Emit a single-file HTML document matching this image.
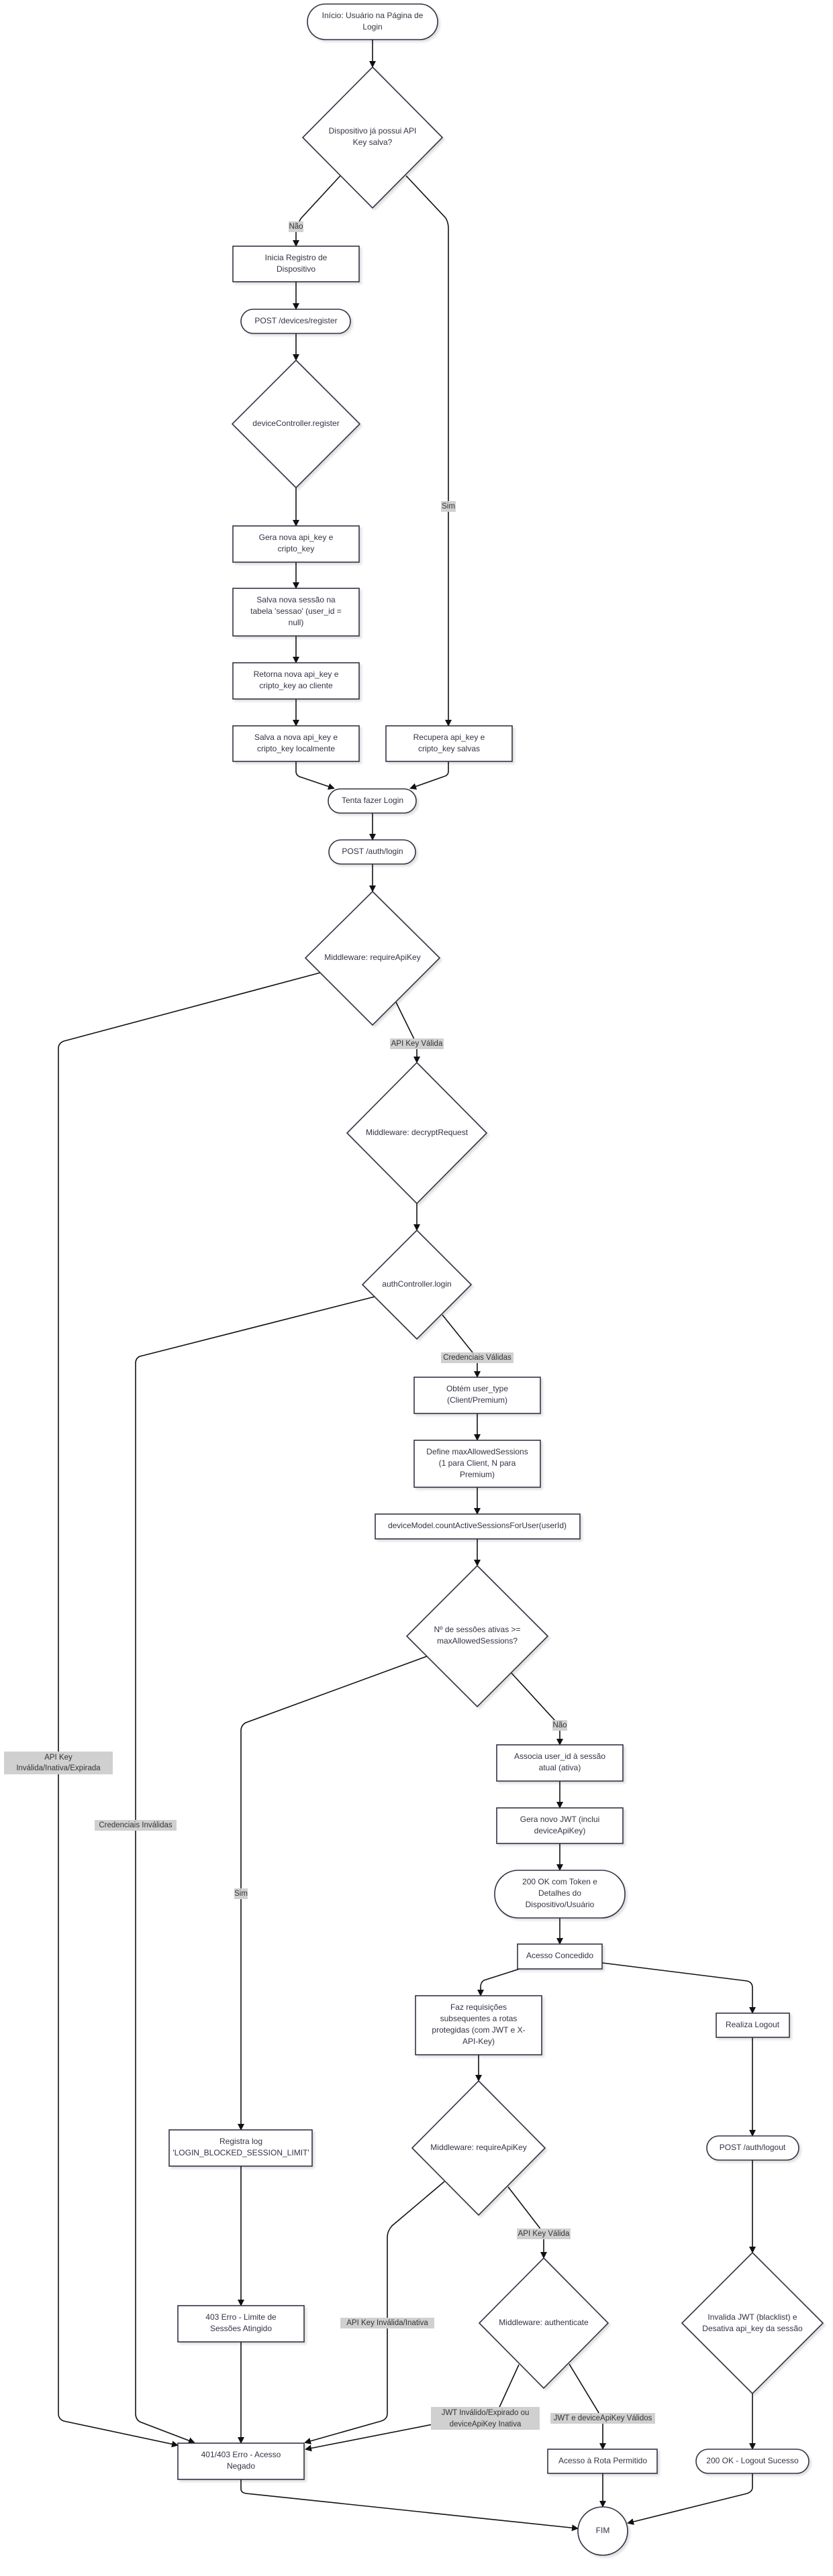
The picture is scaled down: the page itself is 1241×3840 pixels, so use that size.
<!DOCTYPE html>
<html><head><meta charset="utf-8"><title>Fluxo de Login</title>
<style>
html,body{margin:0;padding:0;background:#fff;}
svg{display:block;}
text{font-family:"Liberation Sans",sans-serif;font-size:12px;fill:#333344;text-anchor:middle;dominant-baseline:middle;}
.n{fill:#fff;stroke:#333344;stroke-width:1.6;filter:url(#sh);}
.e{fill:none;stroke:#111;stroke-width:1.6;}
.lb{fill:#d0d0d0;}
.lt{font-size:11.5px;fill:#333;}
</style></head>
<body>
<svg width="1241" height="3840" viewBox="0 0 1241 3840" xmlns="http://www.w3.org/2000/svg">
<defs>
<marker id="ar" markerWidth="10" markerHeight="10" refX="8" refY="5" orient="auto" markerUnits="userSpaceOnUse"><path d="M0,0 L10,5 L0,10 z" fill="#111"/></marker>
<filter id="sh" x="-10%" y="-10%" width="130%" height="130%"><feDropShadow dx="3" dy="3" stdDeviation="1.5" flood-color="#000" flood-opacity="0.12"/></filter>
</defs>

<!-- EDGES -->
<g>
<path class="e" marker-end="url(#ar)" d="M555 59 L555 99"/>
<path class="e" marker-end="url(#ar)" d="M507 262 L448 326 L441 340 L441 366"/>
<path class="e" marker-end="url(#ar)" d="M605 262 L664 325 Q668 332 668 340 L668 1081"/>
<path class="e" marker-end="url(#ar)" d="M441 420 L441 460"/>
<path class="e" marker-end="url(#ar)" d="M441 497 L441 536"/>
<path class="e" marker-end="url(#ar)" d="M441 726 L441 783"/>
<path class="e" marker-end="url(#ar)" d="M441 838 L441 876"/>
<path class="e" marker-end="url(#ar)" d="M441 948 L441 987"/>
<path class="e" marker-end="url(#ar)" d="M441 1042 L441 1081"/>
<path class="e" marker-end="url(#ar)" d="M441 1135 L441 1150 Q441 1157 450 1159 L497 1175"/>
<path class="e" marker-end="url(#ar)" d="M668 1135 L668 1150 Q668 1156 660 1158 L612 1175"/>
<path class="e" marker-end="url(#ar)" d="M555 1212 L555 1251"/>
<path class="e" marker-end="url(#ar)" d="M555 1288 L555 1328"/>
<path class="e" marker-end="url(#ar)" d="M477 1450 L95 1552 Q87 1555 87 1563 L87 3598 Q87 3606 95 3609 L264 3645"/>
<path class="e" marker-end="url(#ar)" d="M590 1494 L617 1549 L621 1560 L621 1583"/>
<path class="e" marker-end="url(#ar)" d="M621 1794 L621 1833"/>
<path class="e" marker-end="url(#ar)" d="M558 1933 L208 2022 Q202 2025 202 2032 L202 3598 Q202 3606 208 3610 L289 3641"/>
<path class="e" marker-end="url(#ar)" d="M659 1960 L704 2016 L711 2030 L711 2052"/>
<path class="e" marker-end="url(#ar)" d="M711 2107 L711 2146"/>
<path class="e" marker-end="url(#ar)" d="M711 2217 L711 2256"/>
<path class="e" marker-end="url(#ar)" d="M711 2294 L711 2333"/>
<path class="e" marker-end="url(#ar)" d="M636 2469 L366 2568 Q359 2572 359 2580 L359 3174"/>
<path class="e" marker-end="url(#ar)" d="M762 2494 L826 2564 L834 2580 L834 2600"/>
<path class="e" marker-end="url(#ar)" d="M834 2655 L834 2694"/>
<path class="e" marker-end="url(#ar)" d="M834 2748 L834 2787"/>
<path class="e" marker-end="url(#ar)" d="M834 2859 L834 2897"/>
<path class="e" marker-end="url(#ar)" d="M774 2935 L721 2952 Q716 2955 716 2962 L716 2974"/>
<path class="e" marker-end="url(#ar)" d="M897 2926 L1113 2953 Q1121 2955 1121 2963 L1121 3000"/>
<path class="e" marker-end="url(#ar)" d="M713 3063 L713 3101"/>
<path class="e" marker-end="url(#ar)" d="M1121 3037 L1121 3183"/>
<path class="e" marker-end="url(#ar)" d="M1121 3220 L1121 3357"/>
<path class="e" marker-end="url(#ar)" d="M1121 3568 L1121 3650"/>
<path class="e" marker-end="url(#ar)" d="M662 3252 L584 3318 Q577 3326 577 3335 L577 3598 Q577 3606 568 3609 L455 3641"/>
<path class="e" marker-end="url(#ar)" d="M757 3260 L804 3321 L810 3335 L810 3365"/>
<path class="e" marker-end="url(#ar)" d="M773 3525 L741 3595 L456 3651"/>
<path class="e" marker-end="url(#ar)" d="M848 3524 L891 3595 L898 3610 L898 3650"/>
<path class="e" marker-end="url(#ar)" d="M898 3687 L898 3736"/>
<path class="e" marker-end="url(#ar)" d="M359 3229 L359 3436"/>
<path class="e" marker-end="url(#ar)" d="M359 3491 L359 3641"/>
<path class="e" marker-end="url(#ar)" d="M359 3696 L359 3710 Q359 3716 367 3717 L860 3769"/>
<path class="e" marker-end="url(#ar)" d="M1121 3687 L1121 3708 Q1121 3714 1113 3717 L936 3761"/>
</g>

<!-- EDGE LABELS -->
<g>
<g><rect class="lb" x="430" y="330" width="22" height="16"/><text class="lt" x="441" y="338">Não</text></g>
<g><rect class="lb" x="657" y="747" width="22" height="16"/><text class="lt" x="668" y="755">Sim</text></g>
<g><rect class="lb" x="581" y="1548" width="80" height="16"/><text class="lt" x="621" y="1556">API Key Válida</text></g>
<g><rect class="lb" x="6" y="2611" width="162" height="34"/><text class="lt" x="87" y="2620">API Key</text><text class="lt" x="87" y="2636">Inválida/Inativa/Expirada</text></g>
<g><rect class="lb" x="657" y="2016" width="108" height="16"/><text class="lt" x="711" y="2024">Credenciais Válidas</text></g>
<g><rect class="lb" x="141" y="2713" width="122" height="16"/><text class="lt" x="202" y="2721">Credenciais Inválidas</text></g>
<g><rect class="lb" x="349" y="2815" width="20" height="16"/><text class="lt" x="359" y="2823">Sim</text></g>
<g><rect class="lb" x="823" y="2564" width="22" height="16"/><text class="lt" x="834" y="2572">Não</text></g>
<g><rect class="lb" x="507" y="3455" width="140" height="16"/><text class="lt" x="577" y="3463">API Key Inválida/Inativa</text></g>
<g><rect class="lb" x="770" y="3322" width="80" height="16"/><text class="lt" x="810" y="3330">API Key Válida</text></g>
<g><rect class="lb" x="642" y="3588" width="162" height="34"/><text class="lt" x="723" y="3597">JWT Inválido/Expirado ou</text><text class="lt" x="723" y="3614">deviceApiKey Inativa</text></g>
<g><rect class="lb" x="820" y="3597" width="156" height="16"/><text class="lt" x="898" y="3605">JWT e deviceApiKey Válidos</text></g>
</g>

<!-- NODES -->
<g><rect class="n" x="458" y="6" width="194" height="53" rx="26.5"/><text x="555" y="24">Início: Usuário na Página de</text><text x="555" y="41">Login</text></g>
<g><polygon class="n" points="555,100 659,205 555,310 451,205"/><text x="555" y="196">Dispositivo já possui API</text><text x="555" y="213">Key salva?</text></g>
<g><rect class="n" x="347" y="367" width="188" height="53"/><text x="441" y="385">Inicia Registro de</text><text x="441" y="402">Dispositivo</text></g>
<g><rect class="n" x="359" y="461" width="163" height="36" rx="18"/><text x="441" y="479">POST /devices/register</text></g>
<g><polygon class="n" points="441,537 536,632 441,727 346,632"/><text x="441" y="632">deviceController.register</text></g>
<g><rect class="n" x="347" y="784" width="188" height="54"/><text x="441" y="802">Gera nova api_key e</text><text x="441" y="819">cripto_key</text></g>
<g><rect class="n" x="347" y="877" width="188" height="71"/><text x="441" y="895">Salva nova sessão na</text><text x="441" y="912">tabela 'sessao' (user_id =</text><text x="441" y="929">null)</text></g>
<g><rect class="n" x="347" y="988" width="188" height="54"/><text x="441" y="1006">Retorna nova api_key e</text><text x="441" y="1023">cripto_key ao cliente</text></g>
<g><rect class="n" x="347" y="1082" width="188" height="53"/><text x="441" y="1100">Salva a nova api_key e</text><text x="441" y="1117">cripto_key localmente</text></g>
<g><rect class="n" x="575" y="1082" width="188" height="53"/><text x="669" y="1100">Recupera api_key e</text><text x="669" y="1117">cripto_key salvas</text></g>
<g><rect class="n" x="489" y="1176" width="131" height="36" rx="18"/><text x="555" y="1194">Tenta fazer Login</text></g>
<g><rect class="n" x="490" y="1252" width="129" height="36" rx="18"/><text x="555" y="1270">POST /auth/login</text></g>
<g><polygon class="n" points="555,1329 655,1428 555,1528 455,1428"/><text x="555" y="1428">Middleware: requireApiKey</text></g>
<g><polygon class="n" points="621,1584 725,1689 621,1794 517,1689"/><text x="621" y="1689">Middleware: decryptRequest</text></g>
<g><polygon class="n" points="621,1834 702,1915 621,1996 540,1915"/><text x="621" y="1915">authController.login</text></g>
<g><rect class="n" x="617" y="2053" width="188" height="54"/><text x="711" y="2071">Obtém user_type</text><text x="711" y="2088">(Client/Premium)</text></g>
<g><rect class="n" x="617" y="2147" width="188" height="70"/><text x="711" y="2165">Define maxAllowedSessions</text><text x="711" y="2182">(1 para Client, N para</text><text x="711" y="2199">Premium)</text></g>
<g><rect class="n" x="559" y="2257" width="305" height="37"/><text x="711" y="2275">deviceModel.countActiveSessionsForUser(userId)</text></g>
<g><polygon class="n" points="711,2334 816,2439 711,2544 606,2439"/><text x="711" y="2430">Nº de sessões ativas &gt;=</text><text x="711" y="2447">maxAllowedSessions?</text></g>
<g><rect class="n" x="740" y="2601" width="188" height="54"/><text x="834" y="2619">Associa user_id à sessão</text><text x="834" y="2636">atual (ativa)</text></g>
<g><rect class="n" x="740" y="2695" width="188" height="53"/><text x="834" y="2713">Gera novo JWT (inclui</text><text x="834" y="2730">deviceApiKey)</text></g>
<g><rect class="n" x="737" y="2788" width="194" height="71" rx="35"/><text x="834" y="2806">200 OK com Token e</text><text x="834" y="2823">Detalhes do</text><text x="834" y="2840">Dispositivo/Usuário</text></g>
<g><rect class="n" x="771" y="2898" width="126" height="37"/><text x="834" y="2916">Acesso Concedido</text></g>
<g><rect class="n" x="619" y="2975" width="188" height="88"/><text x="713" y="2993">Faz requisições</text><text x="713" y="3010">subsequentes a rotas</text><text x="713" y="3027">protegidas (com JWT e X-</text><text x="713" y="3044">API-Key)</text></g>
<g><rect class="n" x="1067" y="3001" width="109" height="36"/><text x="1121" y="3019">Realiza Logout</text></g>
<g><rect class="n" x="252" y="3175" width="213" height="54"/><text x="359" y="3193">Registra log</text><text x="359" y="3210">'LOGIN_BLOCKED_SESSION_LIMIT'</text></g>
<g><polygon class="n" points="713,3102 812,3202 713,3302 614,3202"/><text x="713" y="3202">Middleware: requireApiKey</text></g>
<g><rect class="n" x="1053" y="3184" width="137" height="36" rx="18"/><text x="1121" y="3202">POST /auth/logout</text></g>
<g><polygon class="n" points="810,3366 906,3463 810,3560 714,3463"/><text x="810" y="3463">Middleware: authenticate</text></g>
<g><polygon class="n" points="1121,3358 1226,3463 1121,3568 1016,3463"/><text x="1121" y="3455">Invalida JWT (blacklist) e</text><text x="1121" y="3472">Desativa api_key da sessão</text></g>
<g><rect class="n" x="265" y="3437" width="188" height="54"/><text x="359" y="3455">403 Erro - Limite de</text><text x="359" y="3472">Sessões Atingido</text></g>
<g><rect class="n" x="265" y="3642" width="188" height="54"/><text x="359" y="3660">401/403 Erro - Acesso</text><text x="359" y="3677">Negado</text></g>
<g><rect class="n" x="816" y="3651" width="163" height="36"/><text x="898" y="3669">Acesso à Rota Permitido</text></g>
<g><rect class="n" x="1037" y="3651" width="168" height="36" rx="18"/><text x="1121" y="3669">200 OK - Logout Sucesso</text></g>
<g><ellipse class="n" cx="898" cy="3773" rx="37" ry="36"/><text x="898" y="3773">FIM</text></g>
</svg>
</body></html>
